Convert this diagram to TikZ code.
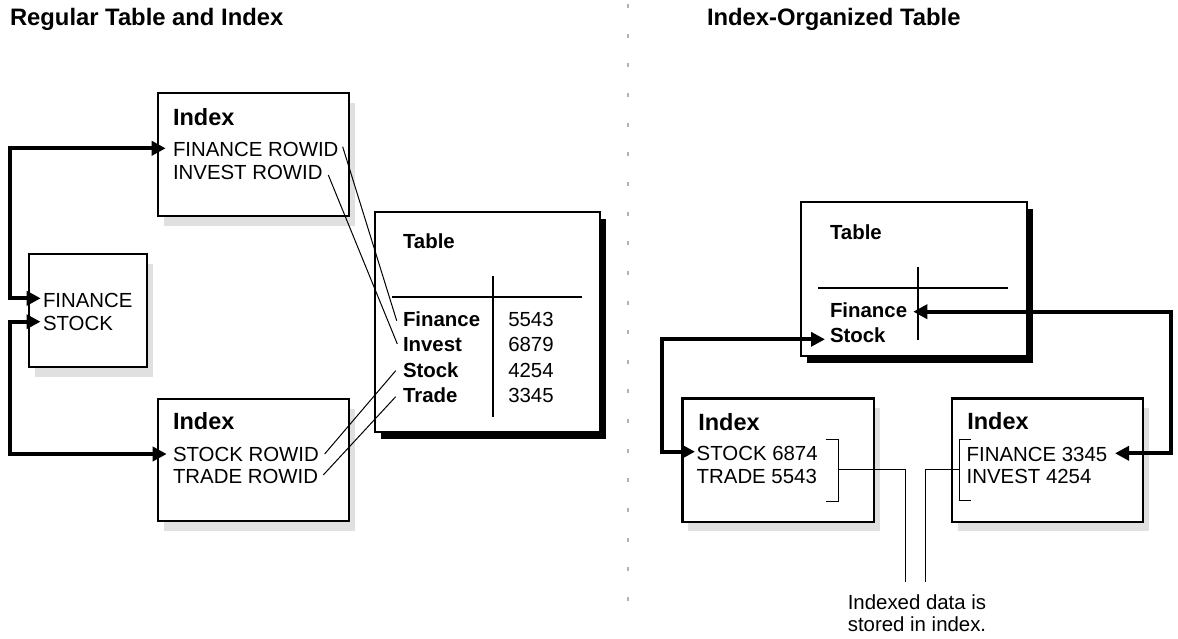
\documentclass[tikz,border=0pt]{standalone}
\usepackage{fontspec}
\setmainfont{Liberation Sans}
\usetikzlibrary{arrows.meta,shadows}

\begin{document}
\begin{tikzpicture}[x=1pt,y=-1pt,
  every node/.style={inner sep=0pt, outer sep=0pt},
  txt/.style={anchor=base west, font=\fontsize{20.4}{23}\selectfont},
  btxt/.style={anchor=base west, font=\fontsize{20.4}{23}\selectfont\bfseries},
  head/.style={anchor=base west, font=\fontsize{23.5}{27}\selectfont\bfseries},
  ttl/.style={anchor=base west, font=\fontsize{23.8}{28}\selectfont\bfseries},
  capt/.style={anchor=base, font=\fontsize{20.4}{23}\selectfont},
  idxbox/.style={draw, line width=2.4pt, fill=white, rectangle, anchor=north west,
    general shadow={fill=black!12, shadow xshift=6pt, shadow yshift=-9.5pt}},
  tblbox/.style={draw, line width=2pt, fill=white, rectangle, anchor=north west,
    general shadow={fill=black, shadow xshift=6pt, shadow yshift=-7pt}},
  rule/.style={line width=2.2pt},
  thin/.style={line width=1pt},
  link/.style={line width=4.2pt, line join=miter,
    {Triangle[length=14pt,width=14pt]}-{Triangle[length=14pt,width=14pt]}}
]
\useasboundingbox (0,0) rectangle (1178,638);

% dotted divider between the two halves
\draw[black!30, line width=2.5pt, dash pattern=on 4pt off 25.65pt] (628,4) -- (628,603);

% titles
\node[ttl] (t1) at (10,25) {Regular Table and Index};
\node[ttl] (t2) at (707,25) {Index-Organized Table};

% ---------------- regular table and index ----------------
\node[idxbox, minimum width=191pt, minimum height=123pt] (idxA) at (158,93) {};
\node[idxbox, minimum width=118pt, minimum height=113pt] (keys) at (29,254) {};
\node[idxbox, minimum width=191pt, minimum height=122pt] (idxB) at (158,399) {};
\node[tblbox, minimum width=225pt, minimum height=220.6pt] (tblA) at (375,211.7) {};

\node[head] (idxAh) at (173,125) {Index};
\node[txt] (frow) at (173,156) {FINANCE ROWID};
\node[txt] (irow) at (173,179) {INVEST ROWID};

\node[txt] (kfin) at (43,307.3) {FINANCE};
\node[txt] (kst) at (43,330) {STOCK};

\node[head] (idxBh) at (173,429.3) {Index};
\node[txt] (srow) at (173,461) {STOCK ROWID};
\node[txt] (trow) at (173,483.3) {TRADE ROWID};

\node[btxt] (tblAh) at (403,248.3) {Table};
\draw[rule] (392,296.7) -- (582,296.7);
\draw[rule] (492.7,276) -- (492.7,417.3);
\node[btxt] (rfin) at (403,326.7) {Finance};
\node[btxt] (rinv) at (403,351.9) {Invest};
\node[btxt] (rst)  at (403,377.1) {Stock};
\node[btxt] (rtr)  at (403,402.3) {Trade};
\node[txt] (vfin) at (508.3,326.7) {5543};
\node[txt] (vinv) at (508.3,351.9) {6879};
\node[txt] (vst)  at (508.3,377.1) {4254};
\node[txt] (vtr)  at (508.3,402.3) {3345};

% rowid pointers into the table
\draw[thin] ([shift={(4.2,-9.3)}]frow.base east) -- ([shift={(-6.3,-6)}]rfin.base west);
\draw[thin] ([shift={(5.7,-4)}]irow.base east) -- ([shift={(-5.7,-8)}]rinv.base west);
\draw[thin] ([shift={(5.8,-7)}]srow.base east) -- ([shift={(-7.3,-6.4)}]rst.base west);
\draw[thin] ([shift={(5.2,-8.3)}]trow.base east) -- ([shift={(-7.3,-5.6)}]rtr.base west);

% key lookups into the two indexes
\coordinate (xL) at (10,0);
\coordinate (aFin) at ([shift={(-2.3,-9)}]kfin.base west);
\coordinate (aSt) at ([shift={(-2.5,-8.3)}]kst.base west);
\coordinate (aFR) at ([shift={(-7.3,-7.7)}]frow.base west);
\coordinate (aSR) at ([shift={(-6.3,-7)}]srow.base west);
\draw[link] (aFin) -- (aFin -| xL) |- (aFR);
\draw[link] (aSt) -- (aSt -| xL) |- (aSR);

% ---------------- index-organized table ----------------
\node[tblbox, minimum width=225.7pt, minimum height=153.4pt] (tblB) at (801,202.3) {};
\node[btxt] (tblBh) at (830,239) {Table};
\draw[rule] (818.3,287.7) -- (1008.3,287.7);
\draw[rule] (918.3,266.7) -- (918.3,340);
\node[btxt] (ofin) at (830,317.3) {Finance};
\node[btxt] (ost) at (830,342.3) {Stock};

\node[idxbox, minimum width=191.7pt, minimum height=123.4pt] (idxC) at (682.3,398.3) {};
\node[head] (idxCh) at (698.3,430) {Index};
\node[txt] (cst) at (696.7,460.7) {STOCK 6874};
\node[txt] (ctr) at (696.7,483.3) {TRADE 5543};

\node[idxbox, minimum width=191pt, minimum height=123.4pt] (idxD) at (951.7,398.3) {};
\node[head] (idxDh) at (967.3,429) {Index};
\node[txt] (dfin) at (966.7,461) {FINANCE 3345};
\node[txt] (dinv) at (966.7,483.3) {INVEST 4254};

\node[capt] (cap1) at (917,609.3) {Indexed data is};
\node[capt] (cap2) at (917,631.7) {stored in index.};

% brackets around the stored rows
\draw[thin] (825.7,439) -- (838.3,439) -- (838.3,501) -- (825.7,501);
\draw[thin] (970.7,439) -- (959.3,439) -- (959.3,500.7) -- (970.7,500.7);
\coordinate (brC) at (838.3,469.3);
\coordinate (brD) at (959.3,469.3);
\coordinate (cL) at ([shift={(-12,-13)}]cap1.north);
\coordinate (cR) at ([shift={(8,-13)}]cap1.north);
\draw[thin] (brC) -| (cL);
\draw[thin] (brD) -| (cR);

% lookups between the index-organized table and its indexes
\coordinate (xRL) at (662,0);
\coordinate (xRR) at (1171,0);
\coordinate (aOst) at ([shift={(-5,-3)}]ost.base west);
\coordinate (aOfin) at ([shift={(6.2,-5.6)}]ofin.base east);
\coordinate (aCst) at ([shift={(-1.7,-9)}]cst.base west);
\coordinate (aDfin) at ([shift={(7.7,-7.7)}]dfin.base east);
\draw[link] (aOst) -- (aOst -| xRL) |- (aCst);
\draw[link] (aOfin) -- (aOfin -| xRR) |- (aDfin);
\end{tikzpicture}
\end{document}
